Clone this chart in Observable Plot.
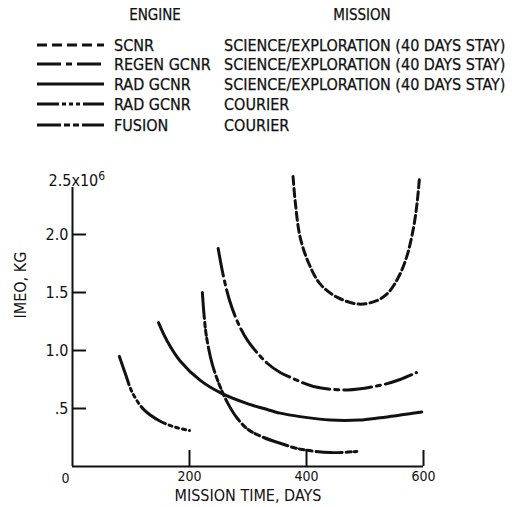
<!DOCTYPE html>
<html>
<head>
<meta charset="utf-8">
<script src="https://cdn.jsdelivr.net/npm/d3@7"></script>
<script src="https://cdn.jsdelivr.net/npm/@observablehq/plot@0.6"></script>
<style>
  html, body { margin: 0; padding: 0; background: #fff; }
  #legend, #chart { display: block; }
  svg { font-family: "DejaVu Sans Condensed", "DejaVu Sans", sans-serif; }
</style>
</head>
<body>
<div id="legend"></div>
<div id="chart"></div>
<script>
// ---- data ----
const engines = ["SCNR", "REGEN GCNR", "RAD GCNR", "RAD GCNR", "FUSION"];
const missions = [
  "SCIENCE/EXPLORATION (40 DAYS STAY)",
  "SCIENCE/EXPLORATION (40 DAYS STAY)",
  "SCIENCE/EXPLORATION (40 DAYS STAY)",
  "COURIER",
  "COURIER"
];
const seriesKeys = ["scnr", "regen", "radSci", "radCourier", "fusion"];

// [mission time (days), IMEO (10^6 kg)]
const scnr = [[377,2.50],[381,2.27],[389,1.98],[404,1.75],[424,1.57],[452,1.46],[490,1.40],[520,1.43],[540,1.50],[558,1.64],[572,1.82],[583,2.06],[589,2.27],[593,2.48]];
const regen = [[249,1.88],[258,1.64],[268,1.44],[281,1.26],[300,1.08],[333,0.89],[355,0.81],[372,0.77],[412,0.69],[470,0.66],[526,0.70],[560,0.75],[588,0.81]];
const radSci = [[147,1.24],[162,1.08],[184,0.91],[219,0.74],[255,0.63],[300,0.54],[327,0.50],[355,0.46],[389,0.43],[441,0.40],[490,0.40],[526,0.42],[597,0.47]];
const radCourier = [[222,1.50],[225,1.30],[229,1.12],[239,0.88],[253,0.68],[266,0.54],[281,0.42],[300,0.32],[327,0.25],[355,0.20],[389,0.15],[441,0.12],[486,0.13]];
const fusion = [[80,0.95],[91,0.79],[102,0.64],[122,0.49],[150,0.39],[175,0.34],[200,0.31]];

const xTicks = [200, 400, 600];
const xZeroLabel = ["0"];
const yTicks = [0.5, 1.0, 1.5, 2.0];
const yTickLabels = [".5", "1.0", "1.5", "2.0"];
const yTopLabel = "2.5x10";
const yTopExponent = "6";
const xTitle = "MISSION TIME, DAYS";
const yTitle = "IMEO, KG";
const headers = ["ENGINE", "MISSION"];

// ---- styles ----
const curveDash = {scnr: "8,4", regen: "28,5,4,5", radSci: null, radCourier: "26,4,5,3,5,3,5,4", fusion: "30,4,3,4,3,4,3,4"};
const legendDash = {scnr: "10,5", regen: "24,5,6,5", radSci: null, radCourier: "22,3,4,3,4,3,4,3", fusion: "24,3,6,3,6,3"};
const ink = "#111";
const font = '"DejaVu Sans Condensed", "DejaVu Sans", sans-serif';

// ---- legend (drawn above the chart) ----
const L = d3.select("#legend").append("svg").attr("width", 512).attr("height", 150)
  .style("font-family", font);
L.append("text").attr("x", 155).attr("y", 15).attr("text-anchor", "middle").attr("dominant-baseline", "central")
  .attr("font-size", 15).attr("fill", ink).attr("stroke", ink).attr("stroke-width", 0.25).text(headers[0]);
L.append("text").attr("x", 362).attr("y", 15).attr("text-anchor", "middle").attr("dominant-baseline", "central")
  .attr("font-size", 15).attr("fill", ink).attr("stroke", ink).attr("stroke-width", 0.25).text(headers[1]);
const rowY = [45, 64, 84, 104, 125];
engines.forEach((e, i) => {
  const y = rowY[i];
  const ln = L.append("line").attr("x1", 37).attr("x2", 104).attr("y1", y).attr("y2", y)
    .attr("stroke", ink).attr("stroke-width", 3);
  if (legendDash[seriesKeys[i]]) ln.attr("stroke-dasharray", legendDash[seriesKeys[i]]);
  L.append("text").attr("x", 114).attr("y", y).attr("dominant-baseline", "central")
    .attr("font-size", 16).attr("fill", ink).attr("stroke", ink).attr("stroke-width", 0.25).text(e);
  L.append("text").attr("x", 224).attr("y", y).attr("dominant-baseline", "central")
    .attr("font-size", 16).attr("fill", ink).attr("stroke", ink).attr("stroke-width", 0.25).text(missions[i]);
});

// ---- chart ----
const seriesData = {scnr, regen, radSci, radCourier, fusion};
const lineMarks = seriesKeys.map(k => Plot.line(seriesData[k], {
  x: d => d[0], y: d => d[1], stroke: ink, strokeWidth: 3,
  strokeDasharray: curveDash[k] || undefined, curve: "catmull-rom"
}));

const chart = Plot.plot({
  width: 512,
  height: 357,
  marginTop: 22,
  marginBottom: 45,
  marginLeft: 72,
  marginRight: 89,
  style: {fontFamily: font, background: "#fff", color: ink},
  x: {domain: [0, 600]},
  y: {domain: [0, 2.5]},
  marks: [
    // axis lines
    Plot.ruleY([0], {stroke: ink, strokeWidth: 2}),
    Plot.ruleX([0], {stroke: ink, strokeWidth: 2, insetTop: 11}),
    // inward tick marks
    Plot.tickY(yTicks, {y: d => d, stroke: ink, strokeWidth: 2, insetRight: 351 - 14}),
    Plot.tickX(xTicks, {x: d => d, stroke: ink, strokeWidth: 2, insetTop: 290 - 16}),
    // tick labels
    Plot.axisY(yTicks, {tickSize: 0, tickPadding: 4, fontSize: 16, label: null,
      tickFormat: (d) => yTickLabels[yTicks.indexOf(d)]}),
    Plot.axisX(xTicks, {tickSize: 0, tickPadding: 5, fontSize: 14, label: null}),
    Plot.text(xZeroLabel, {x: 0, y: 0, text: d => d, dy: 12, dx: -7, fontSize: 14, lineAnchor: "middle", fill: ink}),
    Plot.text([yTopLabel], {x: 0, y: 2.5, text: d => d, textAnchor: "start", dx: -24, dy: 4, fontSize: 16, fill: ink}),
    // axis titles
    Plot.text([xTitle], {frameAnchor: "bottom", text: d => d, dy: 34, fontSize: 16, fill: ink}),
    Plot.text([yTitle], {frameAnchor: "left", text: d => d, dx: -52, dy: -3, rotate: -90, fontSize: 16, fill: ink}),
    // curves
    ...lineMarks
  ]
});
// raise the exponent of the top tick label as a superscript
d3.select(chart).selectAll("text").filter(function () { return this.textContent === yTopLabel; })
  .append("tspan").attr("dy", "-0.45em").attr("font-size", 12).text(yTopExponent);
document.getElementById("chart").appendChild(chart);
</script>
</body>
</html>
